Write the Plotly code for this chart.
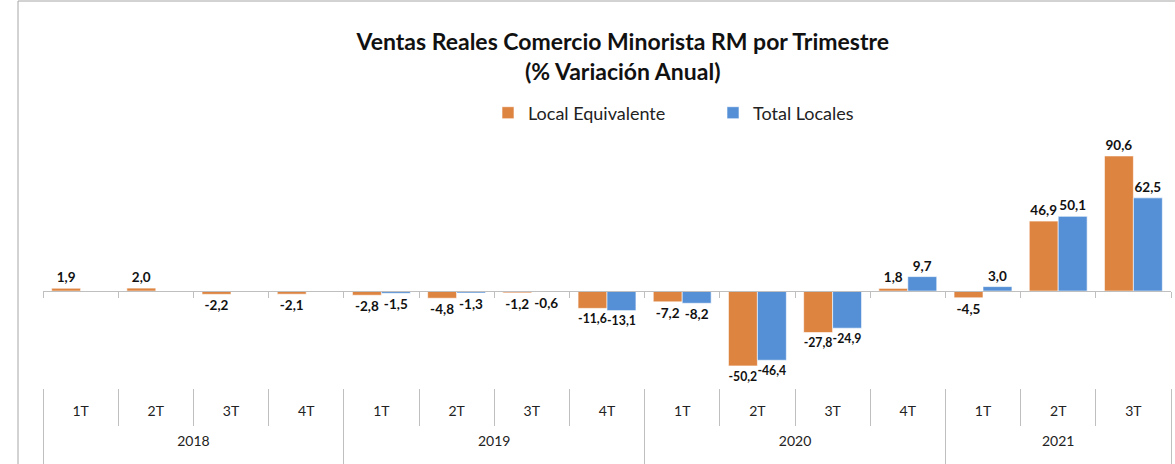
import plotly.graph_objects as go

years = ["2018"] * 4 + ["2019"] * 4 + ["2020"] * 4 + ["2021"] * 3
quarters = ["1T", "2T", "3T", "4T"] * 3 + ["1T", "2T", "3T"]
year_labels = ["2018", "2019", "2020", "2021"]
local_equivalente = [1.9, 2.0, -2.2, -2.1, -2.8, -4.8, -1.2, -11.6, -7.2, -50.2, -27.8, 1.8, -4.5, 46.9, 90.6]
total_locales = [None, None, None, None, -1.5, -1.3, -0.6, -13.1, -8.2, -46.4, -24.9, 9.7, 3.0, 50.1, 62.5]

ORANGE = "#DE8441"
BLUE = "#5590D6"
GRID = "#BFBFBF"
FONT = "Lato"

cats = [f"{y} {q}" for y, q in zip(years, quarters)]
n = len(cats)
idx = list(range(n))
bounds = [i - 0.5 for i in range(n + 1)]
year_centers, year_bounds = [], []
for yl in year_labels:
    ii = [i for i, y in enumerate(years) if y == yl]
    year_centers.append((ii[0] + ii[-1]) / 2)
    year_bounds.append(ii[0] - 0.5)
year_bounds.append(n - 0.5)

fig = go.Figure()
for name, vals, col in [("Local Equivalente", local_equivalente, ORANGE),
                        ("Total Locales", total_locales, BLUE)]:
    fig.add_trace(go.Bar(
        x=cats, y=vals, name=name,
        marker=dict(color=col, line=dict(color="white", width=0.6)),
        texttemplate="%{y:.1f}", textposition="outside",
        textfont=dict(family=FONT, size=13.5, color="#111111", weight="bold"),
        cliponaxis=False,
    ))
# invisible carriers so the helper axes are instantiated
for ax in ["x2", "x3", "x4"]:
    fig.add_trace(go.Scatter(x=idx, y=[None] * n, xaxis=ax, yaxis="y", mode="markers",
                             showlegend=False, hoverinfo="skip"))

ymin, ymax = -65, 108
zero_pos = (0 - ymin) / (ymax - ymin)
xr = [-0.5, n - 0.5]

common = dict(overlaying="x", anchor="free", range=xr, showgrid=False,
              zeroline=False, type="linear", fixedrange=True)

fig.update_layout(
    width=1175, height=464,
    margin=dict(l=43, r=4, t=130, b=76),
    paper_bgcolor="white", plot_bgcolor="white",
    separators=",.",
    barmode="group", bargap=0.23, bargroupgap=0,
    font=dict(family=FONT, color="#333333"),
    title=dict(
        text="<b>Ventas Reales Comercio Minorista RM por Trimestre<br>(% Variación Anual)</b>",
        x=0.530, xref="container", xanchor="center",
        y=1 - 50 / 464, yref="container", yanchor="middle",
        font=dict(family=FONT, size=23, color="#111111"),
    ),
    legend=dict(
        orientation="h", x=(488 - 43) / 1128, xanchor="left", y=1 + 17 / 258, yanchor="middle",
        font=dict(family=FONT, size=18, color="#222222"),
        itemwidth=30, traceorder="normal", entrywidth=180,
    ),
    xaxis=dict(type="category", range=xr, showgrid=False, showline=False,
               zeroline=False, showticklabels=False, ticks=""),
    xaxis2=dict(**common, position=zero_pos, showline=True, linecolor=GRID, linewidth=1,
                tickmode="array", tickvals=bounds, ticks="outside", ticklen=6,
                tickcolor=GRID, showticklabels=False),
    xaxis3=dict(**common, position=0, showline=False,
                tickmode="array", tickvals=idx, ticktext=quarters, ticks="",
                ticklabelstandoff=13,
                tickfont=dict(family=FONT, size=14, color="#222222"),
                minor=dict(tickmode="array", tickvals=bounds, ticks="outside",
                           ticklen=37, tickcolor=GRID, tickwidth=1)),
    xaxis4=dict(**common, position=0, showline=False,
                tickmode="array", tickvals=year_centers, ticktext=year_labels, ticks="",
                ticklabelstandoff=43,
                tickfont=dict(family=FONT, size=14, color="#222222"),
                minor=dict(tickmode="array", tickvals=year_bounds, ticks="outside",
                           ticklen=76, tickcolor=GRID, tickwidth=1)),
    yaxis=dict(range=[ymin, ymax], showgrid=False, zeroline=False,
               showticklabels=False, showline=False),
    shapes=[dict(type="rect", xref="paper", yref="paper",
                 x0=-25 / 1128, x1=1.2, y0=-1, y1=1 + 129 / 258,
                 line=dict(color="#A6A6A6", width=1), fillcolor="rgba(0,0,0,0)",
                 layer="below")],
)

fig.write_html("out.html", post_script="document.body.style.margin='0';",
               config={"displayModeBar": False})
